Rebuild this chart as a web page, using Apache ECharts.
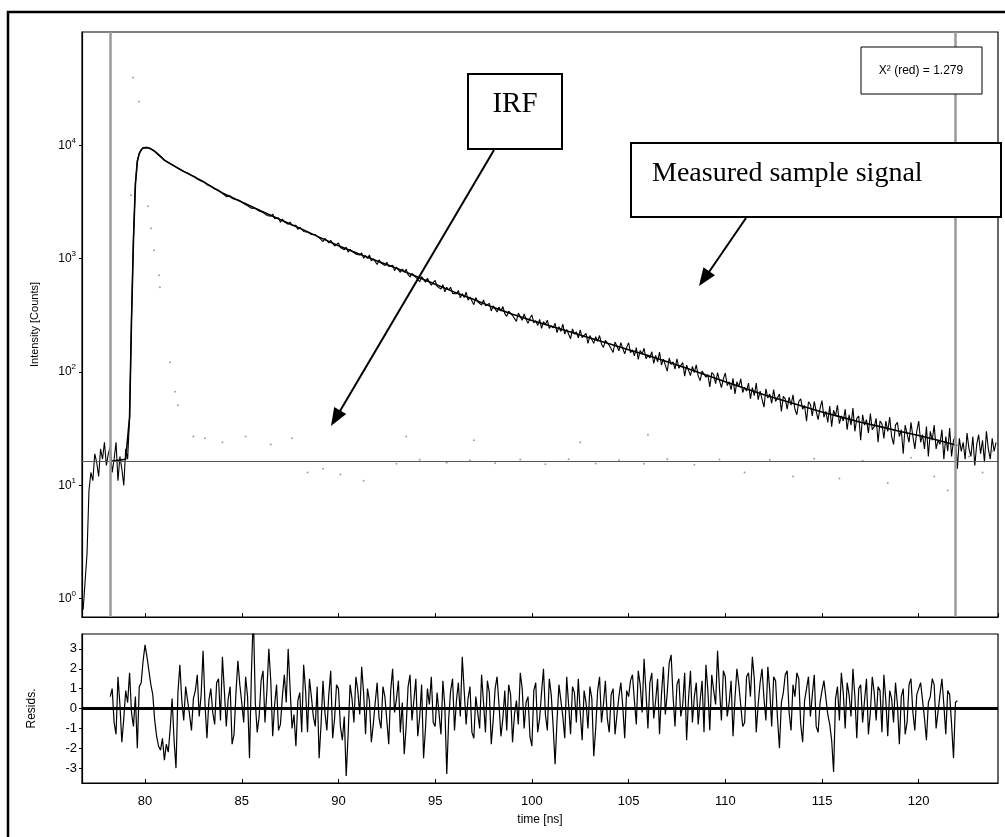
<!DOCTYPE html>
<html>
  <head>
    <meta charset="utf-8" />
    <script src="https://cdn.jsdelivr.net/npm/echarts/dist/echarts.min.js"></script>
    <title>decay fit</title>
    <style>
      html, body { margin: 0; padding: 0; background: #fff; }
      #main { width: 1005px; height: 837px; }
    </style>
  </head>
  <body>
    <div id="main"></div>
    <script>
      // time channels [ns]
      const time = [
        76.8, 76.9,
        77, 77.1, 77.2, 77.3, 77.4, 77.5, 77.6, 77.7, 77.8, 77.9,
        78, 78.1, 78.2, 78.3, 78.4, 78.5, 78.6, 78.7, 78.8, 78.9,
        79, 79.1, 79.2, 79.3, 79.4, 79.5, 79.6, 79.7, 79.8, 79.9,
        80, 80.1, 80.2, 80.3, 80.4, 80.5, 80.6, 80.7, 80.8, 80.9,
        81, 81.1, 81.2, 81.3, 81.4, 81.5, 81.6, 81.7, 81.8, 81.9,
        82, 82.1, 82.2, 82.3, 82.4, 82.5, 82.6, 82.7, 82.8, 82.9,
        83, 83.1, 83.2, 83.3, 83.4, 83.5, 83.6, 83.7, 83.8, 83.9,
        84, 84.1, 84.2, 84.3, 84.4, 84.5, 84.6, 84.7, 84.8, 84.9,
        85, 85.1, 85.2, 85.3, 85.4, 85.5, 85.6, 85.7, 85.8, 85.9,
        86, 86.1, 86.2, 86.3, 86.4, 86.5, 86.6, 86.7, 86.8, 86.9,
        87, 87.1, 87.2, 87.3, 87.4, 87.5, 87.6, 87.7, 87.8, 87.9,
        88, 88.1, 88.2, 88.3, 88.4, 88.5, 88.6, 88.7, 88.8, 88.9,
        89, 89.1, 89.2, 89.3, 89.4, 89.5, 89.6, 89.7, 89.8, 89.9,
        90, 90.1, 90.2, 90.3, 90.4, 90.5, 90.6, 90.7, 90.8, 90.9,
        91, 91.1, 91.2, 91.3, 91.4, 91.5, 91.6, 91.7, 91.8, 91.9,
        92, 92.1, 92.2, 92.3, 92.4, 92.5, 92.6, 92.7, 92.8, 92.9,
        93, 93.1, 93.2, 93.3, 93.4, 93.5, 93.6, 93.7, 93.8, 93.9,
        94, 94.1, 94.2, 94.3, 94.4, 94.5, 94.6, 94.7, 94.8, 94.9,
        95, 95.1, 95.2, 95.3, 95.4, 95.5, 95.6, 95.7, 95.8, 95.9,
        96, 96.1, 96.2, 96.3, 96.4, 96.5, 96.6, 96.7, 96.8, 96.9,
        97, 97.1, 97.2, 97.3, 97.4, 97.5, 97.6, 97.7, 97.8, 97.9,
        98, 98.1, 98.2, 98.3, 98.4, 98.5, 98.6, 98.7, 98.8, 98.9,
        99, 99.1, 99.2, 99.3, 99.4, 99.5, 99.6, 99.7, 99.8, 99.9,
        100, 100.1, 100.2, 100.3, 100.4, 100.5, 100.6, 100.7, 100.8, 100.9,
        101, 101.1, 101.2, 101.3, 101.4, 101.5, 101.6, 101.7, 101.8, 101.9,
        102, 102.1, 102.2, 102.3, 102.4, 102.5, 102.6, 102.7, 102.8, 102.9,
        103, 103.1, 103.2, 103.3, 103.4, 103.5, 103.6, 103.7, 103.8, 103.9,
        104, 104.1, 104.2, 104.3, 104.4, 104.5, 104.6, 104.7, 104.8, 104.9,
        105, 105.1, 105.2, 105.3, 105.4, 105.5, 105.6, 105.7, 105.8, 105.9,
        106, 106.1, 106.2, 106.3, 106.4, 106.5, 106.6, 106.7, 106.8, 106.9,
        107, 107.1, 107.2, 107.3, 107.4, 107.5, 107.6, 107.7, 107.8, 107.9,
        108, 108.1, 108.2, 108.3, 108.4, 108.5, 108.6, 108.7, 108.8, 108.9,
        109, 109.1, 109.2, 109.3, 109.4, 109.5, 109.6, 109.7, 109.8, 109.9,
        110, 110.1, 110.2, 110.3, 110.4, 110.5, 110.6, 110.7, 110.8, 110.9,
        111, 111.1, 111.2, 111.3, 111.4, 111.5, 111.6, 111.7, 111.8, 111.9,
        112, 112.1, 112.2, 112.3, 112.4, 112.5, 112.6, 112.7, 112.8, 112.9,
        113, 113.1, 113.2, 113.3, 113.4, 113.5, 113.6, 113.7, 113.8, 113.9,
        114, 114.1, 114.2, 114.3, 114.4, 114.5, 114.6, 114.7, 114.8, 114.9,
        115, 115.1, 115.2, 115.3, 115.4, 115.5, 115.6, 115.7, 115.8, 115.9,
        116, 116.1, 116.2, 116.3, 116.4, 116.5, 116.6, 116.7, 116.8, 116.9,
        117, 117.1, 117.2, 117.3, 117.4, 117.5, 117.6, 117.7, 117.8, 117.9,
        118, 118.1, 118.2, 118.3, 118.4, 118.5, 118.6, 118.7, 118.8, 118.9,
        119, 119.1, 119.2, 119.3, 119.4, 119.5, 119.6, 119.7, 119.8, 119.9,
        120, 120.1, 120.2, 120.3, 120.4, 120.5, 120.6, 120.7, 120.8, 120.9,
        121, 121.1, 121.2, 121.3, 121.4, 121.5, 121.6, 121.7, 121.8, 121.9,
        122, 122.1, 122.2, 122.3, 122.4, 122.5, 122.6, 122.7, 122.8, 122.9,
        123, 123.1, 123.2, 123.3, 123.4, 123.5, 123.6, 123.7, 123.8, 123.9,
        124
      ]

      // measured sample signal [counts], one value per channel
      const counts = [
        0.8, 0.8,
        2.5, 9, 13, 11, 19, 16, 12, 21, 17, 24,
        15, 19, 22, 13, 17, 24, 11, 18, 14, 10,
        21, 17, 40, 300, 1500, 4600, 7300, 8500, 9100, 9500,
        9700, 9640, 9410, 9350, 9010, 8900, 8480, 8360, 7930, 7760,
        7380, 7290, 7020, 6990, 6700, 6660, 6400, 6350, 6120, 6080,
        5850, 5720, 5690, 5470, 5460, 5260, 5250, 5040, 5030, 4850,
        4820, 4710, 4490, 4530, 4350, 4370, 4120, 3980, 4020, 3950,
        3770, 3745, 3523, 3667, 3580, 3396, 3495, 3327, 3195, 3252,
        3286, 3065, 3064, 2924, 3006, 2790, 2875, 2772, 2820, 2630,
        2635, 2559, 2623, 2409, 2490, 2368, 2476, 2258, 2311, 2299,
        2100, 2232, 2119, 2125, 2011, 2103, 1963, 1949, 1973, 1812,
        1893, 1844, 1739, 1801, 1716, 1766, 1634, 1576, 1631, 1621,
        1531, 1532, 1412, 1515, 1475, 1377, 1454, 1363, 1294, 1343,
        1378, 1257, 1271, 1199, 1264, 1143, 1210, 1160, 1204, 1098,
        1113, 1078, 1126, 1009, 1067, 1005, 1078, 957, 998, 1001,
        888, 977, 917, 929, 868, 932, 855, 854, 877, 784,
        842, 822, 758, 811, 762, 808, 722, 691, 740, 742,
        686, 695, 626, 694, 674, 620, 671, 620, 583, 617,
        644, 570, 585, 540, 589, 510, 560, 530, 560, 494,
        509, 490, 524, 451, 492, 455, 506, 430, 459, 464,
        393, 454, 417, 426, 390, 433, 385, 386, 403, 346,
        385, 375, 338, 375, 346, 378, 328, 310, 344, 349,
        315, 324, 280, 331, 321, 286, 325, 292, 269, 298,
        319, 272, 284, 257, 292, 243, 279, 261, 287, 243,
        256, 245, 269, 223, 251, 228, 265, 216, 237, 242,
        197, 240, 216, 226, 200, 235, 201, 205, 219, 179,
        210, 204, 179, 205, 187, 210, 176, 165, 190, 194,
        172, 179, 149, 184, 178, 154, 182, 161, 145, 165,
        181, 148, 157, 139, 164, 129, 155, 144, 162, 131,
        141, 133, 151, 119, 140, 123, 150, 115, 130, 135,
        102, 133, 117, 123, 106, 131, 108, 110, 121, 92,
        115, 111, 93, 112, 99, 116, 92, 84, 102, 105,
        90, 95, 74, 99, 95, 79, 99, 84, 73, 87,
        98, 76, 82, 70, 88, 64, 82, 74, 87, 66,
        73, 68, 80, 58, 73, 62, 80, 57, 68, 70,
        49, 71, 59, 64, 53, 70, 55, 57, 64, 45,
        61, 58, 47, 60, 51, 63, 47, 42, 55, 58,
        47, 50.7, 36.8, 54.6, 52, 41, 55, 45, 38, 48,
        56, 40, 45, 36, 50, 33, 46, 41, 51, 35,
        41, 37, 47, 31, 42, 34, 48, 30, 39, 41,
        25, 42, 34, 38, 29, 43, 31, 33, 39, 24,
        37, 35, 26, 37, 30, 40, 27, 23, 34, 36,
        27, 31, 19, 34, 33, 24, 36, 27, 21, 30,
        37, 24, 28, 21, 33, 18, 30, 25, 34, 21,
        25, 23, 31, 17, 27, 20, 32, 18, 25, 27,
        14, 26, 20, 24, 17, 29, 21, 18, 27, 15,
        23, 28, 19, 25, 16, 30, 21, 17, 26, 20,
        24
      ]

      // fitted curve
      const fitTime = [78.2, 79, 79.1, 79.2, 79.3, 79.4, 79.5, 79.6, 79.7, 79.8, 79.9, 80, 80.2, 80.4, 80.6, 80.8,
        81, 82, 83, 84, 85, 86, 87, 88, 89, 90, 91, 92, 93, 94, 95, 96, 97, 98, 99, 100,
        101, 102, 103, 104, 105, 106, 107, 108, 109, 110, 111, 112, 113, 114, 115, 116,
        117, 118, 119, 120, 121, 122]
      const fitCounts = [16.3, 17, 17.5, 40, 290, 1450, 4500, 7200, 8450, 9100, 9500, 9650, 9480, 9080, 8570, 8010,
        7410, 5890, 4790, 3800, 3160, 2630, 2210, 1860, 1550, 1300, 1110, 955, 822, 700, 596, 507, 437, 372, 324, 285,
        254, 226, 200, 178, 157, 140, 123, 108, 94, 82, 72, 63, 56, 50, 44.5, 40,
        36, 33, 30, 27.5, 25, 22.5]

      // weighted residuals inside the fit range (78.2 .. 122 ns)
      const resid = [
        0.6, 1.0, -0.7, -1.3, 1.6, 0.2, -1.7, -0.5, 0.9, 0.3,
        1.8, -0.2, -0.9, 0.6, -2.0, 1.1, 1.3, 2.4, 3.2, 2.6,
        1.9, 1.2, 0.7, -0.6, -1.4, -1.9, -2.1, -1.5, -2.6, -1.8,
        -2.2, -1.0, 0.5, -1.6, -3.0, 0.8, 2.2, 0.4, -0.6, 1.1,
        1.2, -0.3, -1.1, 0.5, 0.9, 1.7, -0.4, 0.7, 2.9, 0.2,
        -1.5, 0.4, 1.0, -0.2, -0.8, 1.3, 1.5, -0.6, 2.6, 0.9,
        -0.9, 0.5, 1.1, -1.8, -1.3, 0.8, 2.4, 1.2, 0.3, -0.7,
        1.6, 0.6, -2.5, 1.8, 4.8, 0.3, -1.2, -0.4, 1.4, 1.9,
        -0.7, 0.9, 3.0, 1.4, -1.4, 0.2, 1.2, -1.1, -0.8, 0.6,
        1.7, 0.3, 3.0, 1.0, -1.0, -0.3, -1.9, 0.4, 0.8, -1.2,
        2.2, 0.9, -1.2, 1.5, 0.6, -0.4, -0.9, 1.1, -2.5, -0.8,
        1.4, -0.2, -1.1, 0.7, 1.9, -1.5, -0.5, 1.2, 1.0, -0.9,
        -1.6, -0.4, -3.4, -1.3, 1.2, 0.5, -0.7, 1.6, 0.9, -0.3,
        2.1, 0.8, -1.3, 1.0, 0.4, -1.7, -0.8, 0.3, 1.3, -0.5,
        -1.0, 1.1, 0.6, -0.6, -1.8, 0.9, 2.0, -0.2, 0.5, 1.4,
        -1.2, 0.3, -2.3, -0.9, 1.1, 1.7, -0.6, 0.4, 1.5, -1.4,
        -0.4, 1.2, -2.5, -1.0, 1.0, 0.2, 1.6, -0.7, -0.9, 0.8,
        0.7, -1.3, 1.4, 0.1, -3.3, -0.5, 0.9, 1.5, -1.1, 0.4,
        1.3, -0.4, 2.6, 0.9, -0.8, 0.5, 1.1, -1.2, -1.5, 0.6,
        0.5, -1.0, 1.7, 0.3, -1.2, 1.4, 0.8, -1.8, -0.6, 1.0,
        1.6, 0.2, -1.4, -0.5, 0.9, -1.1, 1.2, 0.7, -1.7, -0.3,
        0.4, -0.8, 1.8, 1.0, -1.0, 0.3, 0.6, -1.4, -1.9, 0.9,
        1.3, -1.2, -0.5, 0.8, 2.0, -0.3, -1.1, 1.5, 0.7, -0.9,
        -2.8, -0.6, 1.2, 0.4, -0.4, -1.5, 1.6, 0.2, -1.3, 1.1,
        0.8, -0.7, 1.5, -0.2, -1.6, 0.9, 0.3, -1.0, 1.1, 0.5,
        -2.4, -1.0, 0.9, 1.6, -0.7, 0.2, 1.4, -0.5, -1.2, 0.7,
        1.0, -1.3, -0.3, 0.6, 1.3, 0.1, -1.5, 0.9, 0.6, 1.4,
        1.7, 0.4, -0.8, 1.9, 1.2, -0.2, 2.5, 0.8, -1.0, 1.3,
        1.8, -0.5, 0.4, 1.5, -1.3, 0.7, 2.1, -0.3, 0.8, 2.3,
        2.7, 0.6, -0.9, 1.2, 1.5, -0.4, 0.2, 1.8, -1.6, 0.5,
        1.9, -0.7, 0.6, 1.3, -0.8, 0.4, 1.4, -1.2, 2.2, 0.9,
        -1.1, 1.7, 0.9, 0.2, 2.9, 1.0, -0.6, 1.9, 1.6, -0.4,
        0.3, 1.4, -1.4, 0.5, 2.0, 1.2, 1.1, -0.9, -0.7, 1.6,
        1.8, 0.6, 2.6, 1.5, -1.2, 0.2, 1.3, 2.0, 0.5, -0.6,
        2.1, 0.9, -0.9, 1.6, 1.4, -0.5, -2.0, 0.3, 0.8, 1.7,
        1.9, -0.2, -1.1, 1.2, 0.6, 1.8, 1.5, -0.8, -1.7, 0.4,
        1.0, 1.6, -0.4, 0.7, 1.7, -0.9, -1.2, 0.3, 0.9, 1.4,
        1.3, -0.3, -0.8, -1.6, -3.2, 0.5, 1.1, -0.6, 1.8, 0.8,
        -1.0, 1.3, 0.7, -0.4, 2.0, 0.6, -1.5, 1.0, 1.2, -0.7,
        0.4, 1.5, -1.3, -0.2, 1.6, 0.8, -0.6, 1.1, 0.9, -1.2,
        1.7, 0.4, -1.4, 0.9, 0.5, -0.7, 1.3, 0.2, -1.8, 0.6,
        1.0, -1.3, -0.7, 1.2, 1.5, -0.2, -1.1, 0.7, 0.8, 1.3,
        1.4, -0.5, -1.6, 0.3, 0.6, 1.5, 1.2, -1.0, -0.9, 0.7,
        1.5, 0.2, -1.3, 0.9, 0.7, -0.8, -2.5, 0.3, 0.4
      ]

      // scattered IRF channels (grey dots)
      const irfTime = [79.27, 79.38, 79.69, 80.15, 80.31, 80.46, 80.72, 80.77, 81.29, 81.55, 81.7,
        82.5, 83.1, 84.0, 85.2, 86.5, 87.6, 88.4, 89.2, 90.1, 91.3, 93.0, 93.5, 94.2, 95.6,
        96.8, 97.0, 98.1, 99.4, 100.7, 101.9, 102.5, 103.3, 104.5, 105.8, 106.0, 107.0, 108.4,
        109.7, 111.0, 112.3, 113.5, 114.6, 115.9, 117.1, 118.4, 119.6, 120.8, 121.5, 122.6,
        123.3, 123.8]
      const irfCounts = [3630, 39700, 24400, 2900, 1860, 1190, 716, 561, 122, 67, 51,
        27, 26, 24, 27, 23, 26, 13, 14, 12.5, 11, 15.5, 27, 16.8, 15.8,
        16.6, 25, 15.7, 16.9, 15.4, 17, 24, 15.6, 16.7, 15.5, 28, 17.1, 15.2,
        16.9, 13, 16.8, 12, 17.2, 11.5, 16.5, 10.5, 17.5, 12, 9, 18,
        13, 20]

      const fitRange = [78.19, 121.9]
      const background = 16.3

      const residTime = time.slice(time.indexOf(78.2), time.indexOf(122) + 1)

      const decayData = time.map(function (t, i) { return [t, counts[i]] })
      const fitData = fitTime.map(function (t, i) { return [t, fitCounts[i]] })
      const residData = residTime.map(function (t, i) { return [t, resid[i]] })
      const irfData = irfTime.map(function (t, i) { return [t, irfCounts[i]] })

      var font = 'Liberation Sans, Arial, sans-serif'
      var serif = 'Liberation Serif, Times New Roman, serif'

      var chart = echarts.init(document.getElementById('main'), null, { renderer: 'canvas' })

      var xCommon = {
        type: 'value',
        min: 76.74,
        max: 124.1,
        splitNumber: 9,
        splitLine: { show: false },
        axisLine: { show: true, onZero: false, lineStyle: { color: '#000', width: 1.2 } },
        axisTick: { show: true, inside: true, length: 4, lineStyle: { color: '#000' } }
      }

      var option = {
        backgroundColor: '#fff',
        animation: false,
        grid: [
          { left: 82, top: 32, width: 916, height: 585, show: true, borderColor: '#000', borderWidth: 1.2, backgroundColor: 'transparent' },
          { left: 82, top: 634, width: 916, height: 149, show: true, borderColor: '#000', borderWidth: 1.2, backgroundColor: 'transparent' }
        ],
        xAxis: [
          Object.assign({}, xCommon, { gridIndex: 0, axisLabel: { show: false } }),
          Object.assign({}, xCommon, {
            gridIndex: 1,
            name: 'time [ns]',
            nameLocation: 'middle',
            nameGap: 31,
            nameTextStyle: { fontFamily: font, fontSize: 12, color: '#000' },
            axisLabel: {
              fontFamily: font, fontSize: 13, color: '#000', margin: 12,
              showMinLabel: false, showMaxLabel: false,
              formatter: function (v) { return v % 5 === 0 ? String(v) : '' }
            }
          })
        ],
        yAxis: [
          {
            type: 'log',
            gridIndex: 0,
            logBase: 10,
            min: 0.69,
            max: 100000,
            name: 'Intensity [Counts]',
            nameLocation: 'middle',
            nameGap: 42,
            nameTextStyle: { fontFamily: font, fontSize: 11, color: '#000' },
            splitLine: { show: false },
            axisLine: { show: true, lineStyle: { color: '#000', width: 1.2 } },
            axisTick: { show: true, length: 3, lineStyle: { color: '#000' } },
            axisLabel: {
              margin: 6,
              showMinLabel: false,
              showMaxLabel: false,
              formatter: function (v) {
                var e = Math.log10(v)
                if (Math.abs(e - Math.round(e)) > 0.01) return ''
                return '{b|10}{s|' + Math.round(e) + '}'
              },
              rich: {
                b: { fontFamily: font, fontSize: 12, color: '#000', lineHeight: 18 },
                s: { fontFamily: font, fontSize: 8, color: '#000', lineHeight: 10, verticalAlign: 'top' }
              }
            }
          },
          {
            type: 'value',
            gridIndex: 1,
            min: -3.75,
            max: 3.75,
            splitNumber: 7,
            name: 'Resids.',
            nameLocation: 'middle',
            nameGap: 44,
            nameTextStyle: { fontFamily: font, fontSize: 12, color: '#000' },
            splitLine: { show: false },
            axisLine: { show: true, onZero: false, lineStyle: { color: '#000', width: 1.2 } },
            axisTick: { show: true, length: 3, lineStyle: { color: '#000' } },
            axisLabel: {
              fontFamily: font, fontSize: 13, color: '#000', margin: 5,
              showMinLabel: false, showMaxLabel: false,
              formatter: function (v) { return Math.abs(v - Math.round(v)) < 1e-6 ? String(Math.round(v)) : '' }
            }
          }
        ],
        series: [
          {
            name: 'IRF',
            type: 'scatter',
            xAxisIndex: 0,
            yAxisIndex: 0,
            data: irfData,
            symbolSize: 2,
            itemStyle: { color: '#8a8a8a' },
            silent: true
          },
          {
            name: 'Measured',
            type: 'line',
            xAxisIndex: 0,
            yAxisIndex: 0,
            data: decayData,
            showSymbol: false,
            lineStyle: { color: '#000', width: 1.1 },
            markLine: {
              silent: true,
              symbol: 'none',
              label: { show: false },
              data: [
                { yAxis: background, lineStyle: { color: '#555', width: 1, type: 'solid' } },
                { xAxis: fitRange[0], lineStyle: { color: '#9a9a9a', width: 2.5, type: 'solid' } },
                { xAxis: fitRange[1], lineStyle: { color: '#9a9a9a', width: 2.5, type: 'solid' } }
              ]
            }
          },
          {
            name: 'Fit',
            type: 'line',
            xAxisIndex: 0,
            yAxisIndex: 0,
            data: fitData,
            showSymbol: false,
            lineStyle: { color: '#000', width: 1.6 }
          },
          {
            name: 'Resids',
            type: 'line',
            xAxisIndex: 1,
            yAxisIndex: 1,
            data: residData,
            showSymbol: false,
            lineStyle: { color: '#000', width: 1.2 },
            markLine: {
              silent: true,
              symbol: 'none',
              label: { show: false },
              data: [{ yAxis: 0 }],
              lineStyle: { color: '#000', width: 3, type: 'solid' }
            }
          }
        ],
        graphic: [
          // outer frame
          { type: 'rect', z: 100, shape: { x: 8, y: 12, width: 1010, height: 840 }, style: { fill: 'none', stroke: '#000', lineWidth: 2.5 } },
          // chi square box
          { type: 'rect', z: 100, shape: { x: 861, y: 47, width: 121, height: 47 }, style: { fill: '#fff', stroke: '#000', lineWidth: 1 } },
          { type: 'text', z: 101, x: 921, y: 71, style: { text: 'X² (red) = 1.279', fontFamily: font, fontSize: 12, fill: '#000', align: 'center', verticalAlign: 'middle' } },
          // IRF label + arrow
          { type: 'rect', z: 100, shape: { x: 468, y: 74, width: 94, height: 75 }, style: { fill: '#fff', stroke: '#000', lineWidth: 2 } },
          { type: 'text', z: 101, x: 515, y: 104, style: { text: 'IRF', fontFamily: serif, fontSize: 29, fill: '#000', align: 'center', verticalAlign: 'middle' } },
          { type: 'line', z: 100, shape: { x1: 494, y1: 150, x2: 340, y2: 411 }, style: { stroke: '#000', lineWidth: 2 } },
          { type: 'polygon', z: 100, shape: { points: [[331, 426], [346.2, 414.1], [334.2, 406.9]] }, style: { fill: '#000' } },
          // measured signal label + arrow
          { type: 'rect', z: 100, shape: { x: 631, y: 143, width: 370, height: 74 }, style: { fill: '#fff', stroke: '#000', lineWidth: 2 } },
          { type: 'text', z: 101, x: 652, y: 174, style: { text: 'Measured sample signal', fontFamily: serif, fontSize: 28, fill: '#000', align: 'left', verticalAlign: 'middle' } },
          { type: 'line', z: 100, shape: { x1: 746, y1: 218, x2: 709, y2: 272 }, style: { stroke: '#000', lineWidth: 2 } },
          { type: 'polygon', z: 100, shape: { points: [[699, 286], [715, 275.2], [703.4, 267.2]] }, style: { fill: '#000' } }
        ]
      }

      chart.setOption(option)
    </script>
  </body>
</html>
